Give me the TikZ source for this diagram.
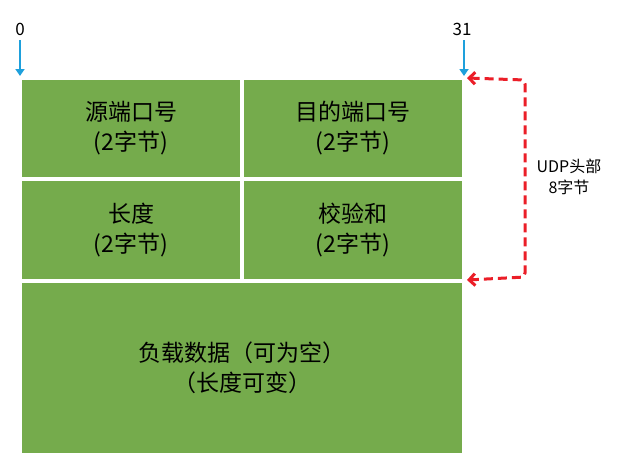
\documentclass[tikz,border=0pt]{standalone}
\usepackage{fontspec}
\setmainfont{Noto Sans CJK SC}
\usetikzlibrary{arrows.meta}
\definecolor{gr}{RGB}{117,171,76}
\definecolor{bl}{RGB}{30,160,220}
\definecolor{rd}{RGB}{235,30,40}
\begin{document}
\begin{tikzpicture}[x=1pt,y=-1pt,
  cell/.style={fill=gr,draw=none,inner sep=0pt,outer sep=0pt,align=center,text=black,font=\fontsize{23}{30}\selectfont},
  lbl/.style={font=\fontsize{17}{20}\selectfont,align=center,text=black}]
\useasboundingbox (0,0) rectangle (636,458);
\node[cell,minimum width=218pt,minimum height=97pt] (a) at (131,128.5) {源端口号\\(2字节)};
\node[cell,minimum width=218pt,minimum height=97pt] (b) at (353,128.5) {目的端口号\\(2字节)};
\node[cell,minimum width=218pt,minimum height=98pt] (c) at (131,230) {长度\\(2字节)};
\node[cell,minimum width=218pt,minimum height=98pt] (d) at (353,230) {校验和\\(2字节)};
\node[cell,minimum width=440pt,minimum height=170pt] (e) at (242,368) {负载数据（可为空）\\（长度可变）};
\node[lbl] (z) at (20,29) {0};
\node[lbl] (t) at (462,29) {31};
\coordinate (z1) at (20,40);
\coordinate (z2) at (20,76);
\coordinate (t1) at (464,40);
\coordinate (t2) at (464,76);
\draw[bl,line width=2.5pt,-{Triangle[length=7pt,width=9pt]}] (z1) -- (z2);
\draw[bl,line width=2.5pt,-{Triangle[length=7pt,width=9pt]}] (t1) -- (t2);
\coordinate (r1) at (467,78);
\coordinate (r2) at (467,280);
\draw[rd,line width=3pt,dash pattern=on 9pt off 5pt,rounded corners=4pt,{Straight Barb[length=6pt,width=12pt]}-{Straight Barb[length=6pt,width=12pt]}]
  (r1) -- (525,80) -- (525,277) -- (r2);
\node[lbl,font=\fontsize{16}{21}\selectfont] (u) at (569,177) {UDP头部\\8字节};
\end{tikzpicture}
\end{document}
